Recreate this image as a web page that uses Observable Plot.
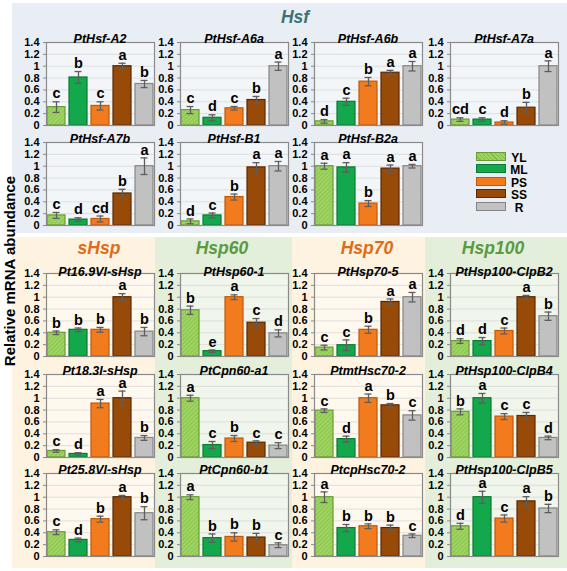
<!DOCTYPE html>
<html><head><meta charset="utf-8">
<script src="https://cdn.jsdelivr.net/npm/d3@7"></script>
<script src="https://cdn.jsdelivr.net/npm/@observablehq/plot@0.6"></script>
<style>
body{margin:0;background:#fff;}
#root{position:relative;width:567px;height:571px;overflow:hidden;font-family:"Liberation Sans",Arial,sans-serif;}
.bg{position:absolute;}
.hdr{position:absolute;transform:translate(-50%,-50%);font-weight:bold;font-style:italic;font-size:17.5px;white-space:nowrap;}
.panel{position:absolute;}
.panel svg{overflow:visible;}
.lgbox{position:absolute;width:28px;height:7px;border:1.5px solid;}
.lgtxt{position:absolute;transform:translate(-50%,-50%);font-weight:bold;font-size:12px;line-height:11px;}
.ylab{position:absolute;transform:translate(-50%,-50%) rotate(-90deg);font-weight:bold;font-size:15px;white-space:nowrap;}
</style></head><body>
<svg width="0" height="0" style="position:absolute">
<defs>
<pattern id="ylHatch" patternUnits="userSpaceOnUse" width="3" height="3" patternTransform="rotate(45)">
<rect width="3" height="3" fill="#9fd462"/>
<line x1="0" y1="0" x2="0" y2="3" stroke="#7fbb44" stroke-width="1.2"/>
</pattern>
</defs>
</svg>
<div id="root"></div>
<script>
const stages = ["YL","ML","PS","SS","R"];
const groupNames = ["Hsf","sHsp","Hsp60","Hsp70","Hsp100"];
const yTicks = [0,0.2,0.4,0.6,0.8,1,1.2,1.4];
const yLabel = "Relative mRNA abundance";
const geneNames = [
  "PtHsf-A2","PtHsf-A6a","PtHsf-A6b","PtHsf-A7a",
  "PtHsf-A7b","PtHsf-B1","PtHsf-B2a",
  "Pt16.9VI-sHsp","PtHsp60-1","PtHsp70-5","PtHsp100-ClpB2",
  "Pt18.3I-sHsp","PtCpn60-a1","PtmtHsc70-2","PtHsp100-ClpB4",
  "Pt25.8VI-sHsp","PtCpn60-b1","PtcpHsc70-2","PtHsp100-ClpB5"
];
const meanValues = [
  [0.31,0.81,0.33,1.00,0.70],
  [0.26,0.13,0.29,0.43,1.00],
  [0.07,0.40,0.74,0.89,1.00],
  [0.10,0.10,0.05,0.30,1.00],
  [0.17,0.10,0.11,0.54,1.00],
  [0.07,0.17,0.48,0.98,1.00],
  [1.00,0.98,0.37,0.96,1.00],
  [0.40,0.45,0.45,1.00,0.42],
  [0.78,0.09,1.00,0.57,0.39],
  [0.15,0.19,0.45,0.92,1.00],
  [0.26,0.26,0.43,1.00,0.68],
  [0.11,0.06,0.91,1.00,0.33],
  [1.00,0.21,0.32,0.25,0.20],
  [0.79,0.31,1.00,0.88,0.71],
  [0.77,1.00,0.69,0.70,0.33],
  [0.41,0.28,0.63,1.00,0.73],
  [1.00,0.31,0.33,0.32,0.19],
  [1.00,0.48,0.51,0.48,0.35],
  [0.51,1.00,0.64,0.93,0.81]
];
const errorValues = [
  [0.09,0.10,0.07,0.05,0.06],
  [0.06,0.05,0.03,0.06,0.07],
  [0.03,0.06,0.07,0.04,0.08],
  [0.03,0.03,0.03,0.09,0.09],
  [0.05,0.03,0.05,0.07,0.14],
  [0.04,0.04,0.05,0.08,0.08],
  [0.05,0.08,0.05,0.06,0.03],
  [0.03,0.03,0.04,0.06,0.07],
  [0.07,0.02,0.04,0.07,0.06],
  [0.04,0.09,0.06,0.05,0.08],
  [0.04,0.06,0.05,0.03,0.07],
  [0.02,0.02,0.07,0.12,0.04],
  [0.05,0.06,0.05,0.03,0.05],
  [0.03,0.05,0.07,0.03,0.08],
  [0.05,0.08,0.05,0.06,0.03],
  [0.04,0.03,0.05,0.03,0.11],
  [0.04,0.07,0.07,0.07,0.04],
  [0.09,0.06,0.04,0.05,0.03],
  [0.05,0.10,0.06,0.08,0.07]
];
const letterLabels = [
  ["c","b","c","a","b"],
  ["c","d","c","b","a"],
  ["d","c","b","a","a"],
  ["cd","c","d","b","a"],
  ["c","d","cd","b","a"],
  ["d","c","b","a","a"],
  ["a","a","b","a","a"],
  ["b","b","b","a","b"],
  ["b","e","a","c","d"],
  ["c","c","b","a","a"],
  ["d","d","c","a","b"],
  ["c","d","a","a","b"],
  ["a","c","b","c","c"],
  ["c","d","a","b","c"],
  ["b","a","c","c","d"],
  ["c","d","b","a","b"],
  ["a","b","b","b","c"],
  ["a","b","b","b","c"],
  ["d","a","c","a","b"]
];

const fillColors = ["url(#ylHatch)","#12a84b","#f27c1d","#984a08","#c1c1c1"];
const legendFills = ["repeating-linear-gradient(45deg,#9fd462 0 2px,#7fbb44 2px 3px)","#12a84b","#f27c1d","#984a08","#c1c1c1"];
const edgeColors = ["#689c36","#0b7a34","#c0580c","#5a2902","#858585"];

const root = document.getElementById("root");
function add(cls, css, text) {
  const d = document.createElement("div");
  d.className = cls;
  Object.assign(d.style, css);
  if (text != null) d.textContent = text;
  root.appendChild(d);
  return d;
}

// backgrounds
add("bg", {left:"12px", top:"3px", width:"555px", height:"230px", background:"#e9eef4"});
add("bg", {left:"12px", top:"237px", width:"143px", height:"331px", background:"#fdf3e0"});
add("bg", {left:"155px", top:"237px", width:"137px", height:"331px", background:"#e3efda"});
add("bg", {left:"292px", top:"237px", width:"133px", height:"331px", background:"#fdf3e0"});
add("bg", {left:"425px", top:"237px", width:"142px", height:"331px", background:"#e3efda"});

// group headers
add("hdr", {left:"295px", top:"17px", color:"#3f7272"}, groupNames[0]);
add("hdr", {left:"99px", top:"248px", color:"#df6c18"}, groupNames[1]);
add("hdr", {left:"222px", top:"248px", color:"#5a9a40"}, groupNames[2]);
add("hdr", {left:"367px", top:"248px", color:"#df6c18"}, groupNames[3]);
add("hdr", {left:"493px", top:"248px", color:"#5a9a40"}, groupNames[4]);

add("ylab", {left:"9px", top:"271px"}, yLabel);

// legend
const lgTops = [152,164,177,189,202];
stages.forEach((s, j) => {
  add("lgbox", {left:"476px", top:lgTops[j] + "px", background:legendFills[j], borderColor:edgeColors[j]});
  add("lgtxt", {left:"519px", top:(lgTops[j] + 5.5) + "px"}, s);
});

const FW = 108, FH = 83, ML = 34, MR = 3, MT = 16, MB = 6;
const colLeft = [46, 180, 314, 450];
const rowTop = [42, 142, 273, 373.5, 473];
const titleDy = [-8, -8, -6, -8, -7.5];

function panel(i) {
  const rows = stages.map((s, j) => ({
    stage: s, mean: meanValues[i][j], err: errorValues[i][j], letter: letterLabels[i][j], edge: edgeColors[j]
  }));
  return Plot.plot({
    width: ML + FW + MR, height: MT + FH + MB,
    marginLeft: ML, marginRight: MR, marginTop: MT, marginBottom: MB,
    style: {background: "transparent", fontFamily: "Liberation Sans, Arial, sans-serif", fontSize: "11px", fontWeight: "bold", color: "#000"},
    x: {domain: stages, axis: null, paddingInner: 0.2, paddingOuter: 0.05},
    y: {domain: [0, 1.4], ticks: yTicks, tickFormat: d => String(+d.toFixed(1)), tickSize: 3, tickPadding: 4, label: null},
    color: {domain: stages, range: fillColors},
    marks: [
      Plot.frame({fill: "#ffffff", fillOpacity: 0.45}),
      Plot.ruleY(yTicks.slice(1, -1), {stroke: "#d8d8d8", strokeWidth: 0.8}),
      Plot.barY(rows, {x: "stage", y: "mean", fill: "stage", stroke: "edge", strokeWidth: 1.2}),
      Plot.ruleX(rows, {x: "stage", y1: d => d.mean - d.err, y2: d => d.mean + d.err, stroke: "#5e5e5e", strokeWidth: 1.3}),
      Plot.tickY(rows, {x: "stage", y: d => d.mean + d.err, inset: 5.5, stroke: "#5e5e5e", strokeWidth: 1.3}),
      Plot.tickY(rows, {x: "stage", y: d => Math.max(0, d.mean - d.err), inset: 5.5, stroke: "#5e5e5e", strokeWidth: 1.3}),
      Plot.text(rows, {x: "stage", y: d => d.mean + d.err, text: "letter", dy: -8, fontSize: 14.5, fontWeight: "bold", fill: "#000"}),
      Plot.frame({stroke: "#8a8a8a", strokeWidth: 1.2}),
      Plot.text([geneNames[i]], {text: d => d, frameAnchor: "top", dy: 0, fontSize: 12.5, fontWeight: "bold", fontStyle: "italic", fill: "#000"})
    ]
  });
}

geneNames.forEach((g, i) => {
  let row, col;
  if (i < 4) { row = 0; col = i; }
  else if (i < 7) { row = 1; col = i - 4; }
  else { row = 2 + Math.floor((i - 7) / 4); col = (i - 7) % 4; }
  const chart = panel(i);
  const wrap = add("panel", {left: (colLeft[col] - ML) + "px", top: (rowTop[row] - MT) + "px", width: (ML + FW + MR) + "px"});
  wrap.appendChild(chart);
  const texts = chart.querySelectorAll("g[aria-label='text']");
  const titleG = texts[texts.length - 1];
  if (titleG) titleG.setAttribute("transform", `translate(0,${titleDy[row]})`);
  const axisG = chart.querySelector("g[aria-label='y-axis tick']");
  if (axisG) axisG.setAttribute("stroke", "#8a8a8a");
});
</script>
</body></html>
